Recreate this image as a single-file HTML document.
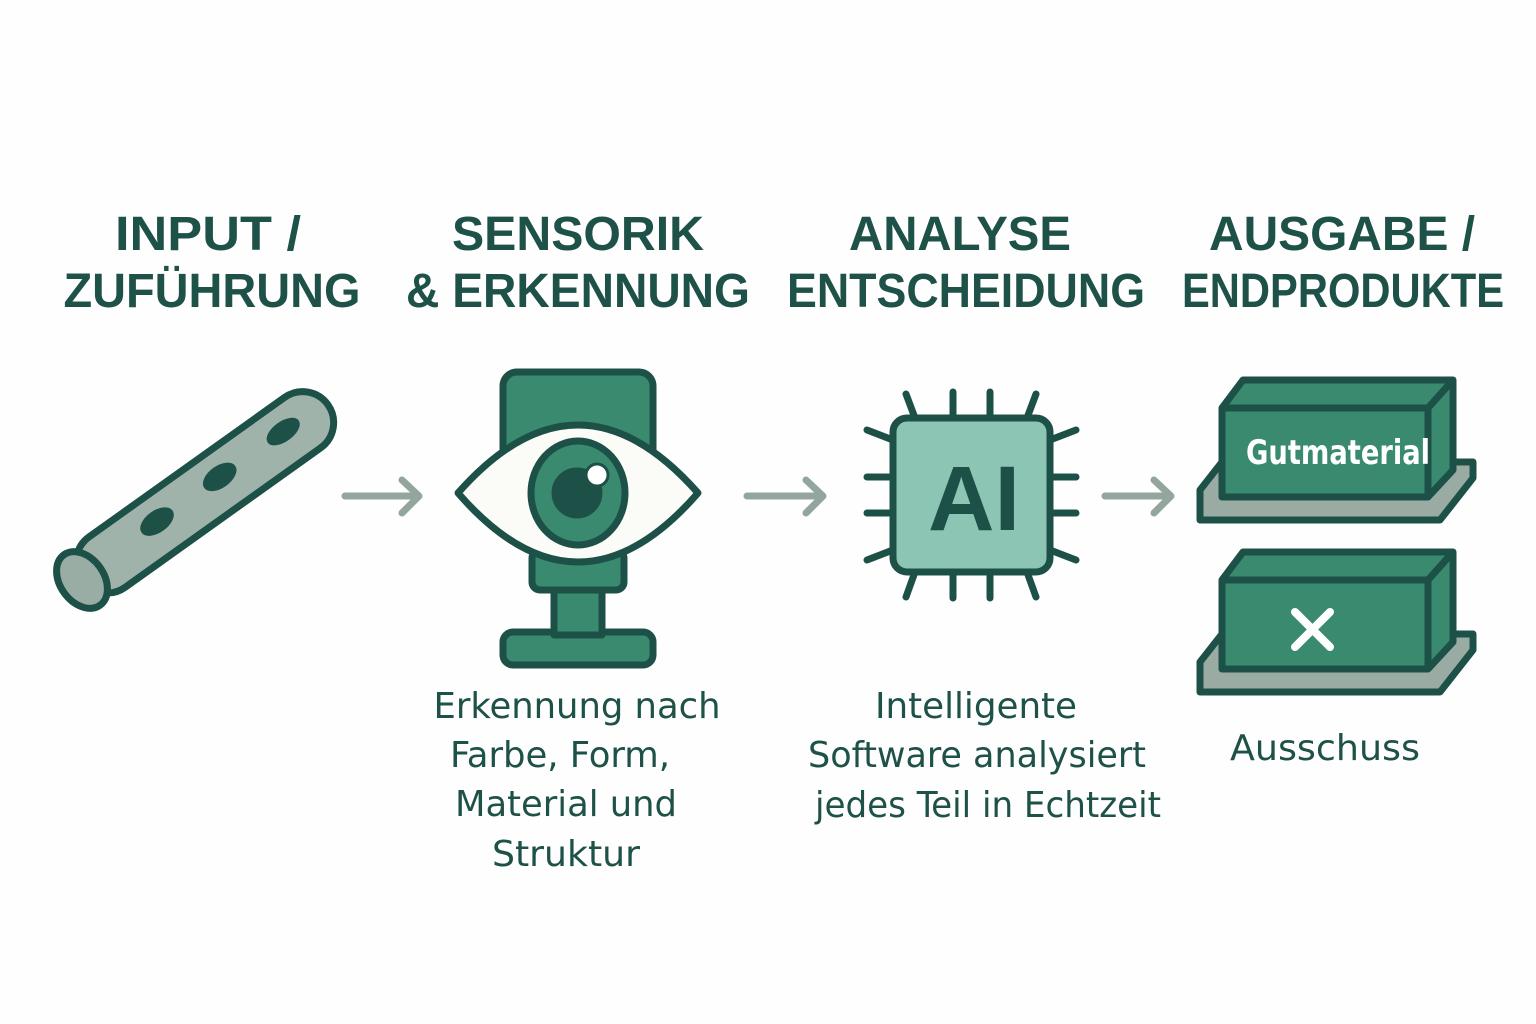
<!DOCTYPE html>
<html><head><meta charset="utf-8"><style>
html,body{margin:0;padding:0;background:#fff}
svg{display:block}
</style></head><body>
<svg width="1536" height="1024" viewBox="0 0 1536 1024" xmlns="http://www.w3.org/2000/svg">
<rect width="1536" height="1024" fill="#fefefe"/>
<g font-family="Liberation Sans, DejaVu Sans, sans-serif" font-weight="bold" font-size="48" fill="#1e5147" text-anchor="middle">
<text x="208" y="250" textLength="186" lengthAdjust="spacingAndGlyphs">INPUT /</text>
<text x="212" y="307" textLength="297" lengthAdjust="spacingAndGlyphs">ZUFÜHRUNG</text>
<text x="578" y="250" textLength="252" lengthAdjust="spacingAndGlyphs">SENSORIK</text>
<text x="578" y="307" textLength="344" lengthAdjust="spacingAndGlyphs">&amp; ERKENNUNG</text>
<text x="960" y="250" textLength="222" lengthAdjust="spacingAndGlyphs">ANALYSE</text>
<text x="966" y="307" textLength="358" lengthAdjust="spacingAndGlyphs">ENTSCHEIDUNG</text>
<text x="1342" y="250" textLength="266" lengthAdjust="spacingAndGlyphs">AUSGABE /</text>
<text x="1343" y="307" textLength="322" lengthAdjust="spacingAndGlyphs">ENDPRODUKTE</text>
</g>
<g font-family="DejaVu Sans Condensed, DejaVu Sans, Liberation Sans, sans-serif" font-size="36" fill="#1e5147" text-anchor="middle">
<text x="577" y="718" textLength="287" lengthAdjust="spacingAndGlyphs">Erkennung nach</text>
<text x="560" y="767" textLength="220" lengthAdjust="spacingAndGlyphs">Farbe, Form,</text>
<text x="566" y="816" textLength="222" lengthAdjust="spacingAndGlyphs">Material und</text>
<text x="566" y="866" textLength="148" lengthAdjust="spacingAndGlyphs">Struktur</text>
<text x="976" y="718" textLength="202" lengthAdjust="spacingAndGlyphs">Intelligente</text>
<text x="977" y="767" textLength="338" lengthAdjust="spacingAndGlyphs">Software analysiert</text>
<text x="988" y="817" textLength="346" lengthAdjust="spacingAndGlyphs">jedes Teil in Echtzeit</text>
<text x="1325" y="760" textLength="190" lengthAdjust="spacingAndGlyphs">Ausschuss</text>
</g>
<!-- arrows -->
<g stroke="#93a69e" stroke-width="7" stroke-linecap="round" fill="none" stroke-linejoin="round">
<path d="M345 496 H418 M402 480 L419 496 L402 513"/>
<path d="M747 496 H822 M806 480 L823 496 L806 513"/>
<path d="M1105 496 H1170 M1154 480 L1171 496 L1154 513"/>
</g>
<!-- pipe -->
<g transform="translate(82,580) rotate(-35.5)" stroke="#1d5148" stroke-width="7">
<rect x="0" y="-31" width="302" height="62" rx="31" fill="#9fb3aa"/>
<ellipse cx="0" cy="0" rx="22" ry="31" fill="#9aada5"/>
<g fill="#1d5148" stroke-width="2">
<ellipse cx="95" cy="-4" rx="18" ry="10"/>
<ellipse cx="172" cy="-4" rx="18" ry="10"/>
<ellipse cx="250" cy="-4" rx="18" ry="9"/>
</g>
</g>
<!-- camera -->
<g stroke="#1d5148" stroke-width="7" stroke-linejoin="round">
<rect x="503" y="372" width="150" height="110" rx="14" fill="#3a8a70"/>
<rect x="503" y="632" width="150" height="33" rx="10" fill="#3a8a70"/>
<rect x="554" y="585" width="48" height="50" fill="#3a8a70"/>
<rect x="532" y="550" width="92" height="40" rx="8" fill="#3a8a70"/>
<path d="M458 493 Q518 425 578 425 Q638 425 698 493 Q638 562 578 562 Q518 562 458 493 Z" fill="#fbfbf8"/>
<ellipse cx="578" cy="493" rx="47" ry="52" fill="#3a8a70"/>
<circle cx="577" cy="493" r="24" fill="#1d5148" stroke-width="3"/>
<circle cx="597" cy="475" r="11" fill="#fff" stroke-width="3"/>
</g>
<!-- chip -->
<g stroke="#1d5148" stroke-width="7" stroke-linecap="round">
<path d="M915 418 L906 394 M953 418 V392 M990 418 V392 M1027 418 L1036 394"/>
<path d="M915 572 L906 597 M953 572 V598 M990 572 V598 M1027 572 L1036 597"/>
<path d="M893 440 L867 430 M893 477 H867 M893 513 H867 M893 550 L867 560"/>
<path d="M1050 440 L1076 430 M1050 477 H1076 M1050 513 H1076 M1050 550 L1076 560"/>
<rect x="893" y="418" width="157" height="154" rx="14" fill="#8cc5b4"/>
</g>
<text x="974" y="530" font-family="Liberation Sans, sans-serif" font-weight="bold" font-size="92" fill="#1d5148" text-anchor="middle">AI</text>
<!-- boxes -->
<g id="b1" stroke="#1d5148" stroke-width="7" stroke-linejoin="round">
<path d="M1200 490 L1222 462 H1473 L1473 478 L1440 520 H1200 Z" fill="#9aaba3"/>
<path d="M1222 408 L1243 380 H1453 V470 L1428 497 H1222 Z" fill="#3a8a70"/>
<path d="M1222 408 H1428 L1453 380 M1428 408 V497" fill="none"/>
</g>
<use href="#b1" transform="translate(0,172)"/>
<text x="1338" y="464" font-family="DejaVu Sans Condensed, DejaVu Sans, sans-serif" font-weight="bold" font-size="34" fill="#ffffff" text-anchor="middle" textLength="184" lengthAdjust="spacingAndGlyphs">Gutmaterial</text>
<path d="M1295 612 L1330 647 M1330 612 L1295 647" stroke="#fff" stroke-width="8" stroke-linecap="round"/>
</svg>
</body></html>
